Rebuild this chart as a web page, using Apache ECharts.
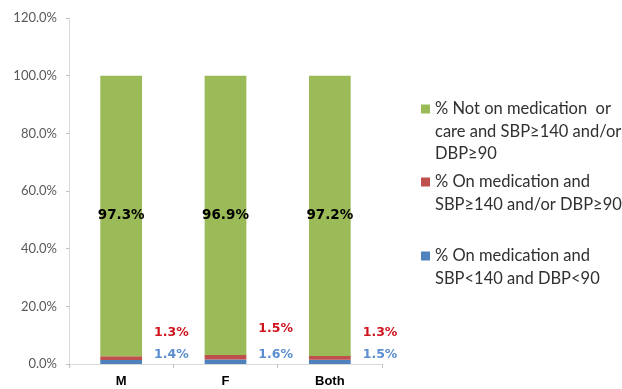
<!DOCTYPE html>
<html>
<head>
<meta charset="utf-8">
<script src="https://cdn.jsdelivr.net/npm/echarts@6/dist/echarts.min.js"></script>
<style>
  html, body { margin: 0; padding: 0; background: #fff; }
  #chart { width: 622px; height: 389px; }
</style>
</head>
<body>
<div id="chart"></div>
<script>
// Hypertension control status by sex (stacked shares, %)
const categories = ['M', 'F', 'Both'];
const controlled = [1.4, 1.6, 1.5];      // on medication, SBP<140 and DBP<90
const uncontrolled = [1.3, 1.5, 1.3];    // on medication, SBP≥140 and/or DBP≥90
const untreated = [97.3, 96.9, 97.2];    // not on medication or care, raised BP
const yTicks = [0, 20, 40, 60, 80, 100, 120];

const seriesNames = [
  '% On medication and\nSBP<140 and DBP<90',
  '% On medication and\nSBP≥140 and/or DBP≥90',
  '% Not on medication  or\ncare and SBP≥140 and/or\nDBP≥90'
];

const LINE_H = 22.5;
const fmt = v => v.toFixed(1) + '%';

const chart = echarts.init(document.getElementById('chart'), null, { renderer: 'canvas' });

// Legend entries: blank lines are prepended so the icon sits beside the first text line
function legendBlock(name, iconCenterY) {
  const lines = name.split('\n').length;
  const boxH = (2 * lines - 1) * LINE_H;
  return {
    data: [name],
    orient: 'vertical',
    left: 421,
    top: iconCenterY - boxH / 2,
    padding: 0,
    itemWidth: 9,
    itemHeight: 9,
    itemGap: 0,
    icon: 'rect',
    selectedMode: false,
    formatter: n => '\n'.repeat(n.split('\n').length - 1) + n,
    textStyle: {
      fontFamily: 'Lato',
      fontSize: 16.5,
      color: '#303030',
      lineHeight: LINE_H
    }
  };
}

const option = {
  animation: false,
  backgroundColor: '#ffffff',
  grid: { left: 69, right: 240, top: 18, bottom: 25, containLabel: false },
  legend: [
    legendBlock(seriesNames[2], 109),
    legendBlock(seriesNames[1], 182),
    legendBlock(seriesNames[0], 256)
  ],
  xAxis: {
    type: 'category',
    data: categories,
    axisLine: { lineStyle: { color: '#d9d9d9', width: 1 } },
    axisTick: { show: true, alignWithLabel: false, length: 4, lineStyle: { color: '#bfbfbf' } },
    axisLabel: {
      color: '#000',
      fontFamily: 'Liberation Sans',
      fontWeight: 'bold',
      fontSize: 13,
      margin: 11
    }
  },
  yAxis: {
    type: 'value',
    min: 0,
    max: 120,
    interval: 20,
    axisLine: { show: true, lineStyle: { color: '#d9d9d9', width: 1 } },
    axisTick: { show: true, length: 3, lineStyle: { color: '#bfbfbf' } },
    splitLine: { show: false },
    axisLabel: {
      color: '#595959',
      fontFamily: 'Lato',
      fontSize: 13,
      margin: 12,
      formatter: v => yTicks.includes(v) ? v.toFixed(1) + '%' : ''
    }
  },
  series: [
    {
      name: seriesNames[0],
      type: 'bar',
      stack: 'bp',
      barWidth: '40%',
      itemStyle: { color: '#4f81bd' },
      label: {
        show: true,
        position: 'right',
        distance: 12,
        offset: [0, -7],
        color: '#5b8ed0',
        fontFamily: 'DejaVu Sans',
        fontWeight: 'bold',
        fontSize: 12.5,
        formatter: p => fmt(p.value)
      },
      data: controlled
    },
    {
      name: seriesNames[1],
      type: 'bar',
      stack: 'bp',
      itemStyle: { color: '#c0504d' },
      label: {
        show: true,
        position: 'right',
        distance: 12,
        offset: [0, -25],
        color: '#d0141e',
        fontFamily: 'DejaVu Sans',
        fontWeight: 'bold',
        fontSize: 12.5,
        formatter: p => fmt(p.value)
      },
      data: uncontrolled.map((v, i) => i === 1 ? { value: v, label: { offset: [0, -28] } } : v)
    },
    {
      name: seriesNames[2],
      type: 'bar',
      stack: 'bp',
      itemStyle: { color: '#9bbb59' },
      label: {
        show: true,
        position: 'inside',
        color: '#000',
        fontFamily: 'DejaVu Sans',
        fontWeight: 'bold',
        fontSize: 13.5,
        formatter: p => fmt(p.value)
      },
      data: untreated
    }
  ]
};

chart.setOption(option);
</script>
</body>
</html>
